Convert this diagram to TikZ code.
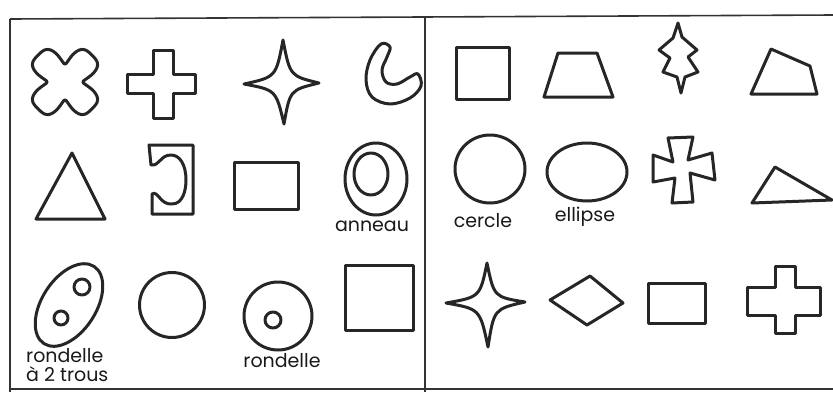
\documentclass[tikz,border=0pt]{standalone}
\usepackage{fontspec}
\newfontfamily\mainhand{Poppins}
\usepackage{tikz}

\begin{document}
\begin{tikzpicture}[x=1pt, y=-1pt,
    piece/.style={draw=black!85, line width=3pt, line join=round},
    cadre/.style={draw=black!80, line width=1.6pt},
    etiquette/.style={font=\mainhand\fontsize{19}{19}\selectfont, text=black!90, inner sep=0pt}]
    \useasboundingbox (0,0) rectangle (833,392);
    % cadre et separation
    \draw[cadre] (10,19) -- (833,15);
    \draw[cadre] (10,19) -- (10,392);
    \draw[cadre] (425,16) -- (425,392);
    \draw[cadre] (10,389) -- (833,389);

    % rangee 1, gauche
    \draw[piece] plot[domain=0:360, samples=121, variable=\t]
        ({65+(31-10*cos(4*\t)-3*cos(8*\t))*cos(\t)}, {82+(31-10*cos(4*\t)-3*cos(8*\t))*sin(\t)}) -- cycle;
    \draw[piece] (153,50) -- (173,50) -- (173,74) -- (195,74) -- (195,93) -- (173,93)
        -- (173,118) -- (153,118) -- (153,93) -- (127,93) -- (127,74) -- (153,74) -- cycle;
    \draw[piece] (283,40) .. controls (290,76) .. (319,83) .. controls (290,90) .. (284,124)
        .. controls (276,90) .. (244,84) .. controls (276,77) .. cycle;
    \draw[piece] plot[smooth cycle, tension=0.6] coordinates {(381,44) (370,60) (366,80) (372,97)
        (390,104) (410,98) (421,86) (418,74) (410,77) (397,84) (386,82) (382,70) (387,57) (390,47)};

    % rangee 1, droite
    \draw[piece] (456,47) rectangle (509,99);
    \draw[piece] (558,53) -- (597,53) -- (613,97) -- (544,97) -- cycle;
    \draw[piece] (678,23) -- (682,37) -- (697,50) -- (688,57) -- (698,72) -- (685,77) -- (681,93)
        -- (677,77) -- (663,72) -- (670,58) -- (659,50) -- (673,38) -- cycle;
    \draw[piece] (771,49) -- (810,66) -- (817,94) -- (751,94) -- cycle;

    % rangee 2, gauche
    \draw[piece] (72,153) -- (105,219) -- (36,219) -- cycle;
    \draw[piece] (149,145) -- (193,145) -- (193,214) -- (152,214) -- (152,194)
        .. controls (158,190) and (160,205) .. (172,204)
        .. controls (183,204) and (186,190) .. (186,180)
        .. controls (186,165) and (180,155) .. (171,155)
        .. controls (160,155) and (160,166) .. (151,165) -- cycle;
    \draw[piece] (234,162) rectangle (298,209);
    \draw[piece] (376,179) ellipse [x radius=31pt, y radius=36pt];
    \draw[piece] (371,174) ellipse [x radius=17pt, y radius=21pt];
    \node[etiquette] (anneau) at (372,226) {anneau};

    % rangee 2, droite
    \draw[piece] (490,169) ellipse [x radius=35pt, y radius=34pt];
    \node[etiquette] (cercle) at (483,221) {cercle};
    \draw[piece] (587,172) ellipse [x radius=40pt, y radius=29pt];
    \node[etiquette] (ellipse) at (585,217) {ellipse};
    \draw[piece] (668,138) -- (693,137) -- (688,160) -- (712,153) -- (715,180) -- (690,173)
        -- (693,202) -- (672,203) -- (675,178) -- (653,182) -- (653,155) -- (673,162) -- cycle;
    \draw[piece] (775,167) -- (832,200) -- (752,203) -- cycle;

    % rangee 3, gauche
    \draw[piece, rotate around={57:(69,305)}] (69,305) ellipse [x radius=46pt, y radius=27pt];
    \draw[piece] (82,287) circle [radius=8pt];
    \draw[piece] (61,318) circle [radius=7pt];
    \node[etiquette, align=left, anchor=north west] (deuxtrous) at (26,348) {rondelle\\à 2 trous};
    \draw[piece] (172,305) circle [radius=32.5pt];
    \draw[piece] (278,316) circle [radius=34pt];
    \draw[piece] (273,320) circle [radius=8pt];
    \node[etiquette] (rondelle) at (282,361) {rondelle};
    \draw[piece] (345,265) rectangle (413,330);

    % rangee 3, droite
    \draw[piece] (487,263) .. controls (494,297) .. (525,302) .. controls (494,309) .. (488,347)
        .. controls (480,309) .. (446,303) .. controls (480,297) .. cycle;
    \draw[piece] (550,300) -- (590,276) -- (623,303) -- (587,325) -- cycle;
    \draw[piece] (648,283) rectangle (705,323);
    \draw[piece] (775,266) -- (795,266) -- (795,287) -- (820,287) -- (820,315) -- (795,315)
        -- (795,333) -- (775,333) -- (775,315) -- (747,315) -- (747,287) -- (775,287) -- cycle;
\end{tikzpicture}
\end{document}
